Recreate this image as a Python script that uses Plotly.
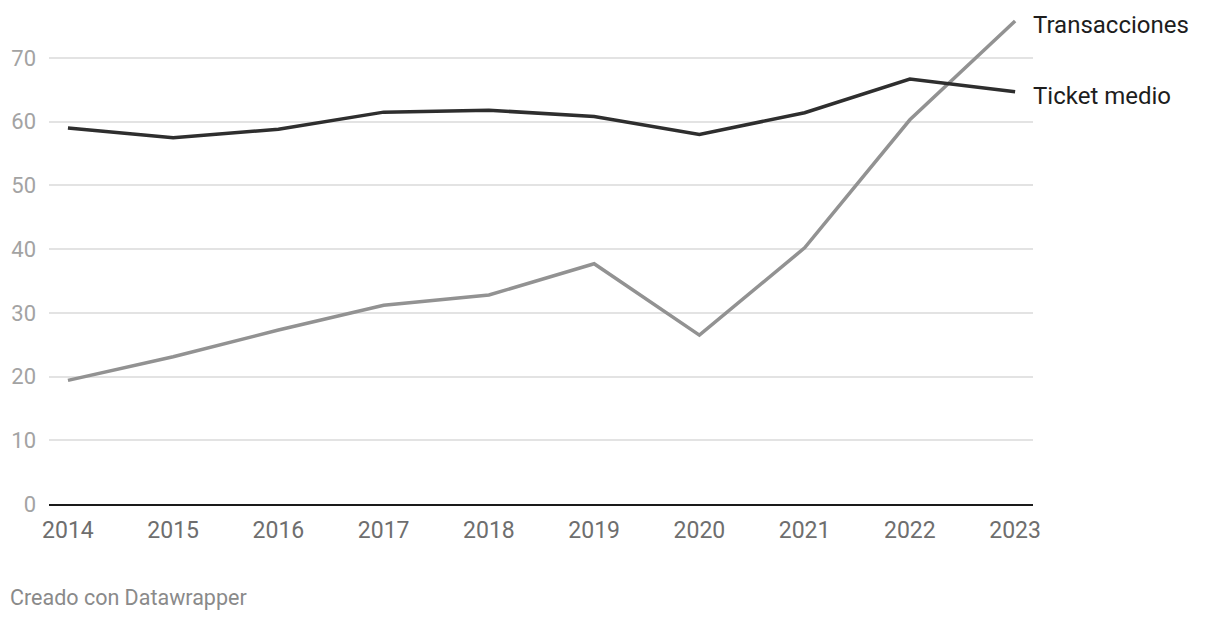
import plotly.graph_objects as go

years = [2014, 2015, 2016, 2017, 2018, 2019, 2020, 2021, 2022, 2023]
ticket_medio = [59.0, 57.5, 58.8, 61.5, 61.8, 60.8, 58.0, 61.4, 66.7, 64.7]
transacciones = [19.4, 23.1, 27.3, 31.2, 32.8, 37.7, 26.5, 40.2, 60.3, 75.8]
y_ticks = [0, 10, 20, 30, 40, 50, 60, 70]
series_names = ["Transacciones", "Ticket medio"]
source_text = "Creado con Datawrapper"

FONT = "Roboto"
fig = go.Figure()
fig.add_trace(go.Scatter(x=years, y=transacciones, mode="lines",
                         line=dict(color="#929292", width=3.5), name=series_names[0],
                         hoverinfo="skip"))
fig.add_trace(go.Scatter(x=years, y=ticket_medio, mode="lines",
                         line=dict(color="#2e2e2e", width=3.5), name=series_names[1],
                         hoverinfo="skip"))

for name, vals in zip(series_names, [transacciones, ticket_medio]):
    fig.add_annotation(x=years[-1], y=vals[-1], text=name, showarrow=False,
                       xanchor="left", yanchor="middle", xshift=16, yshift=-4,
                       font=dict(family=FONT, size=24, color="#1d1d1d"))

fig.add_annotation(xref="paper", yref="paper", x=0, y=0, xshift=-41, yshift=-93,
                   xanchor="left", yanchor="middle", text=source_text, showarrow=False,
                   font=dict(family=FONT, size=21.5, color="#8a8a8a"))

fig.update_layout(
    width=1220, height=620,
    margin=dict(l=49, r=187, t=7, b=116),
    plot_bgcolor="white", paper_bgcolor="white",
    showlegend=False,
    font=dict(family=FONT),
    xaxis=dict(range=[2013.82, 2023.17], tickvals=years, ticktext=[str(y) for y in years],
               showgrid=False, zeroline=False, showline=True, linecolor="#1a1a1a",
               linewidth=2.2, ticks="", ticklabelstandoff=4,
               tickfont=dict(family=FONT, size=23, color="#6e6e6e")),
    yaxis=dict(range=[0, 78], tickvals=y_ticks, showgrid=True, gridcolor="#e3e3e3",
               gridwidth=1.5, zeroline=False, showline=False, ticks="",
               ticklabelstandoff=12,
               tickfont=dict(family=FONT, size=22, color="#a3a3a3")),
)

fig.write_html("out.html")
